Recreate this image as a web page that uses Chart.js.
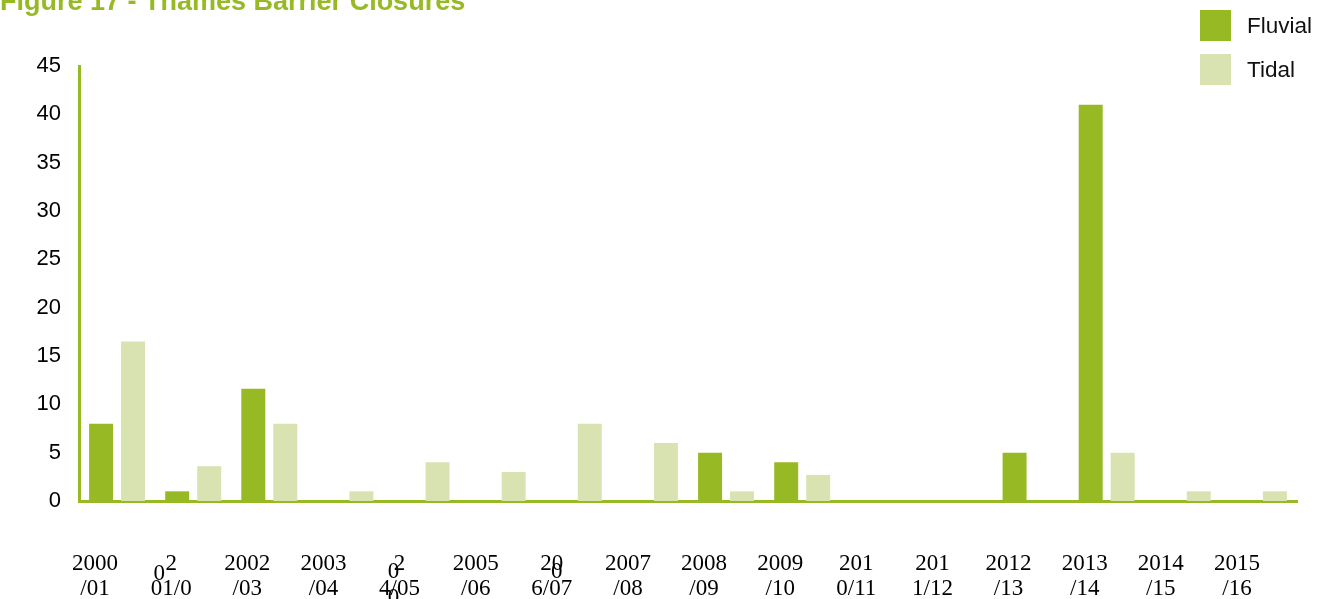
<!DOCTYPE html>
<html>
<head>
<meta charset="utf-8">
<script src="https://cdn.jsdelivr.net/npm/chart.js@4"></script>
<style>
  html, body { margin: 0; padding: 0; background: #fff; }
  .wrap { position: relative; width: 1317px; height: 599px; overflow: hidden; }
  .title { position: absolute; left: 0; top: -14px; font: bold 27px "Liberation Sans", Arial, sans-serif; color: #97b923; white-space: nowrap; }
  .legend { position: absolute; left: 1200px; top: 10px; font: 22.5px "Liberation Sans", Arial, sans-serif; color: #111; }
  .legend-item { display: flex; align-items: center; height: 31px; margin-bottom: 13px; }
  .legend-dot { width: 31px; height: 31px; margin-right: 16px; }
  canvas { position: absolute; left: 0; top: 0; }
</style>
</head>
<body>
<div class="wrap">
  <canvas id="chart" width="1317" height="599"></canvas>
  <div class="title">Figure 17 - Thames Barrier Closures</div>
  <div class="legend" id="legend"></div>
</div>
<script>
// ===== DATA =====
const labels = [
  ['2000', '/01'], ['2', '01/0'], ['2002', '/03'], ['2003', '/04'],
  ['2', '4/05'], ['2005', '/06'], ['20', '6/07'], ['2007', '/08'],
  ['2008', '/09'], ['2009', '/10'], ['201', '0/11'], ['201', '1/12'],
  ['2012', '/13'], ['2013', '/14'], ['2014', '/15'], ['2015', '/16']
];
const fluvial = [8, 1, 11.6, 0, 0, 0, 0, 0, 5, 4, 0, 0, 5, 41, 0, 0];
const tidal   = [16.5, 3.6, 8, 1, 4, 3, 8, 6, 1, 2.7, 0, 0, 0, 5, 1, 1];
const yTicks  = [0, 5, 10, 15, 20, 25, 30, 35, 40, 45];

const GREEN = '#97b923';
const LIGHT = '#d9e3b1';
const SERIF = '"Liberation Serif", "Times New Roman", serif';

const series = [
  { label: 'Fluvial', data: fluvial, color: GREEN },
  { label: 'Tidal',   data: tidal,   color: LIGHT }
];

// Leftover "0" glyphs from the badly wrapped year labels in the source
const strayZeros = [
  { index: 1, dx: -12, dy: 73 },
  { index: 4, dx: -6,  dy: 71 },
  { index: 4, dx: -6,  dy: 97 },
  { index: 6, dx: 5,   dy: 71 }
];
const LABEL_SHIFT = -22;

const strayPlugin = {
  id: 'strayZeros',
  afterDraw(chart) {
    const { ctx, chartArea } = chart;
    const x = chart.scales.x;
    ctx.save();
    ctx.font = '23px ' + SERIF;
    ctx.fillStyle = '#000';
    ctx.textAlign = 'center';
    ctx.textBaseline = 'middle';
    strayZeros.forEach(s => {
      ctx.fillText('0', x.getPixelForTick(s.index) + LABEL_SHIFT + s.dx, chartArea.bottom + s.dy);
    });
    ctx.restore();
  }
};

new Chart(document.getElementById('chart'), {
  type: 'bar',
  data: {
    labels,
    datasets: series.map(s => ({
      label: s.label, data: s.data, backgroundColor: s.color,
      borderWidth: 0, categoryPercentage: 0.84, barPercentage: 0.75
    }))
  },
  options: {
    responsive: false,
    animation: false,
    layout: { padding: { top: 66, right: 20, left: 0, bottom: 0 } },
    plugins: { legend: { display: false }, tooltip: { enabled: false } },
    scales: {
      x: {
        afterFit: scale => { scale.height = 98; scale.paddingLeft = 0; scale.paddingRight = 0; },
        grid: { display: false, drawTicks: false },
        border: { color: GREEN, width: 3 },
        ticks: {
          color: '#000', padding: 50, labelOffset: LABEL_SHIFT,
          maxRotation: 0, autoSkip: false,
          font: { family: SERIF, size: 23, lineHeight: 1.1 }
        }
      },
      y: {
        min: 0, max: 45,
        afterBuildTicks: scale => { scale.ticks = yTicks.map(v => ({ value: v })); },
        afterFit: scale => { scale.width = 79; },
        grid: { display: false, drawTicks: false },
        border: { color: GREEN, width: 3 },
        ticks: {
          color: '#000', padding: 18,
          font: { family: '"Liberation Sans", Arial, sans-serif', size: 22 }
        }
      }
    }
  },
  plugins: [strayPlugin]
});

// Custom legend
document.getElementById('legend').innerHTML = series.map(s =>
  `<div class="legend-item">
    <div class="legend-dot" style="background:${s.color}"></div>
    <span>${s.label}</span>
  </div>`
).join('');
</script>
</body>
</html>
